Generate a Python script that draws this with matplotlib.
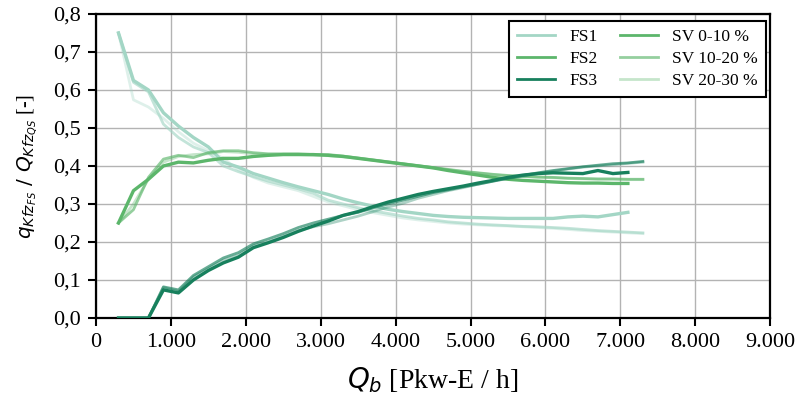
import numpy as np
import matplotlib.pyplot as plt
from matplotlib.lines import Line2D
from matplotlib.ticker import FuncFormatter

# Verkehrsstaerke Qb [Pkw-E/h]
qb_short = list(range(300, 7101, 200))   # SV 0-10 %
qb_long = list(range(300, 7301, 200))    # SV 10-20 %, SV 20-30 %

# FS1
fs1_sv0 = [0.75, 0.625, 0.60, 0.54, 0.505, 0.475, 0.45, 0.41, 0.397, 0.38, 0.368, 0.356, 0.345, 0.335,
           0.325, 0.313, 0.303, 0.294, 0.286, 0.28, 0.275, 0.27, 0.267, 0.265, 0.264, 0.263, 0.262,
           0.262, 0.262, 0.262, 0.266, 0.268, 0.266, 0.272, 0.278]
fs1_sv10 = [0.75, 0.62, 0.595, 0.51, 0.475, 0.45, 0.435, 0.40, 0.385, 0.372, 0.36, 0.35, 0.34, 0.328,
            0.31, 0.30, 0.29, 0.282, 0.275, 0.268, 0.262, 0.258, 0.253, 0.25, 0.247, 0.245, 0.243,
            0.241, 0.24, 0.238, 0.236, 0.233, 0.23, 0.228, 0.226, 0.224]
fs1_sv20 = [0.75, 0.574, 0.555, 0.525, 0.49, 0.46, 0.44, 0.42, 0.39, 0.37, 0.355, 0.345, 0.335, 0.32,
            0.305, 0.295, 0.285, 0.277, 0.27, 0.263, 0.258, 0.254, 0.25, 0.247, 0.245, 0.243, 0.242,
            0.24, 0.238, 0.236, 0.233, 0.23, 0.228, 0.226, 0.224, 0.222]

# FS2
fs2_sv0 = [0.25, 0.335, 0.365, 0.40, 0.41, 0.408, 0.415, 0.42, 0.42, 0.425, 0.428, 0.43, 0.43, 0.43,
           0.428, 0.425, 0.42, 0.415, 0.41, 0.405, 0.40, 0.395, 0.388, 0.382, 0.376, 0.37, 0.365,
           0.362, 0.36, 0.358, 0.356, 0.355, 0.355, 0.354, 0.354]
fs2_sv10 = [0.25, 0.285, 0.37, 0.418, 0.428, 0.422, 0.435, 0.44, 0.44, 0.435, 0.432, 0.432, 0.432, 0.43,
            0.43, 0.426, 0.421, 0.416, 0.411, 0.406, 0.401, 0.396, 0.391, 0.386, 0.382, 0.378, 0.375,
            0.373, 0.371, 0.37, 0.368, 0.367, 0.366, 0.366, 0.365, 0.365]
fs2_sv20 = [0.25, 0.30, 0.365, 0.41, 0.425, 0.43, 0.432, 0.438, 0.436, 0.432, 0.43, 0.43, 0.43, 0.428,
            0.427, 0.424, 0.42, 0.415, 0.41, 0.405, 0.40, 0.395, 0.39, 0.385, 0.381, 0.377, 0.374,
            0.372, 0.37, 0.369, 0.367, 0.366, 0.365, 0.365, 0.364, 0.364]

# FS3
fs3_sv0 = [0.0, 0.0, 0.0, 0.074, 0.066, 0.10, 0.125, 0.145, 0.16, 0.185, 0.198, 0.212, 0.228, 0.242,
           0.255, 0.27, 0.28, 0.293, 0.305, 0.315, 0.325, 0.333, 0.34, 0.347, 0.355, 0.362, 0.37,
           0.376, 0.38, 0.382, 0.381, 0.38, 0.388, 0.38, 0.383]
fs3_sv10 = [0.0, 0.0, 0.0, 0.082, 0.074, 0.112, 0.135, 0.158, 0.172, 0.195, 0.208, 0.222, 0.238, 0.25,
            0.26, 0.27, 0.278, 0.29, 0.30, 0.31, 0.32, 0.33, 0.337, 0.345, 0.352, 0.36, 0.368,
            0.375, 0.382, 0.388, 0.393, 0.398, 0.402, 0.406, 0.408, 0.412]
fs3_sv20 = [0.0, 0.0, 0.0, 0.08, 0.07, 0.108, 0.13, 0.152, 0.165, 0.19, 0.20, 0.215, 0.23, 0.24,
            0.248, 0.258, 0.268, 0.28, 0.292, 0.302, 0.315, 0.325, 0.335, 0.343, 0.352, 0.36, 0.367,
            0.373, 0.38, 0.386, 0.392, 0.397, 0.40, 0.403, 0.407, 0.41]

fs_labels = ['FS1', 'FS2', 'FS3']
sv_labels = ['SV 0-10 %', 'SV 10-20 %', 'SV 20-30 %']
fs_colors = ['#a3d6c5', '#5cb66b', '#17805d']
sv_alpha = [1.0, 0.65, 0.35]
sv_width = [2.4, 2.0, 2.0]

plt.rcParams['font.family'] = ['Liberation Serif', 'DejaVu Serif']
plt.rcParams['mathtext.fontset'] = 'dejavusans'

fig = plt.figure(figsize=(8.04, 3.98), dpi=100)
ax = fig.add_axes([0.1194, 0.201, 0.8386, 0.764])

data = [
    [(qb_short, fs1_sv0), (qb_long, fs1_sv10), (qb_long, fs1_sv20)],
    [(qb_short, fs2_sv0), (qb_long, fs2_sv10), (qb_long, fs2_sv20)],
    [(qb_short, fs3_sv0), (qb_long, fs3_sv10), (qb_long, fs3_sv20)],
]
for i, series in enumerate(data):
    for j in [2, 1, 0]:
        x, y = series[j]
        ax.plot(x, y, color=fs_colors[i], alpha=sv_alpha[j], lw=sv_width[j], zorder=3)

ax.set_xlim(0, 9000)
ax.set_ylim(0, 0.8)
ax.set_xticks(np.arange(0, 9001, 1000))
ax.set_yticks(np.arange(0, 0.81, 0.1))
ax.xaxis.set_major_formatter(FuncFormatter(lambda v, p: f'{int(v):,}'.replace(',', '.')))
ax.yaxis.set_major_formatter(FuncFormatter(lambda v, p: f'{v:.1f}'.replace('.', ',')))
ax.grid(True, color='#b3b3b3', lw=1.0, zorder=0)
ax.tick_params(labelsize=16, width=1.5, length=6, direction='out', pad=5)
for s in ax.spines.values():
    s.set_linewidth(1.6)
    s.set_color('black')

ax.set_xlabel(r'$Q_b$ [Pkw-E / h]', fontsize=20, labelpad=9)
ax.set_ylabel(r'$q_{Kfz_{FS}}\ /\ Q_{Kfz_{QS}}$ [-]', fontsize=14.5, labelpad=9)

handles = [Line2D([], [], color=c, lw=2) for c in fs_colors]
handles += [Line2D([], [], color=fs_colors[1], alpha=a, lw=2) for a in sv_alpha]
leg = ax.legend(handles, fs_labels + sv_labels, ncol=2, loc='upper right', fontsize=12.5,
                fancybox=False, framealpha=1, edgecolor='black', bbox_to_anchor=(1.006, 1.006),
                handlelength=2.2, columnspacing=1.3, borderpad=0.45, labelspacing=0.35)
leg.get_frame().set_linewidth(1.5)

fig.savefig('out.png', dpi=100)
